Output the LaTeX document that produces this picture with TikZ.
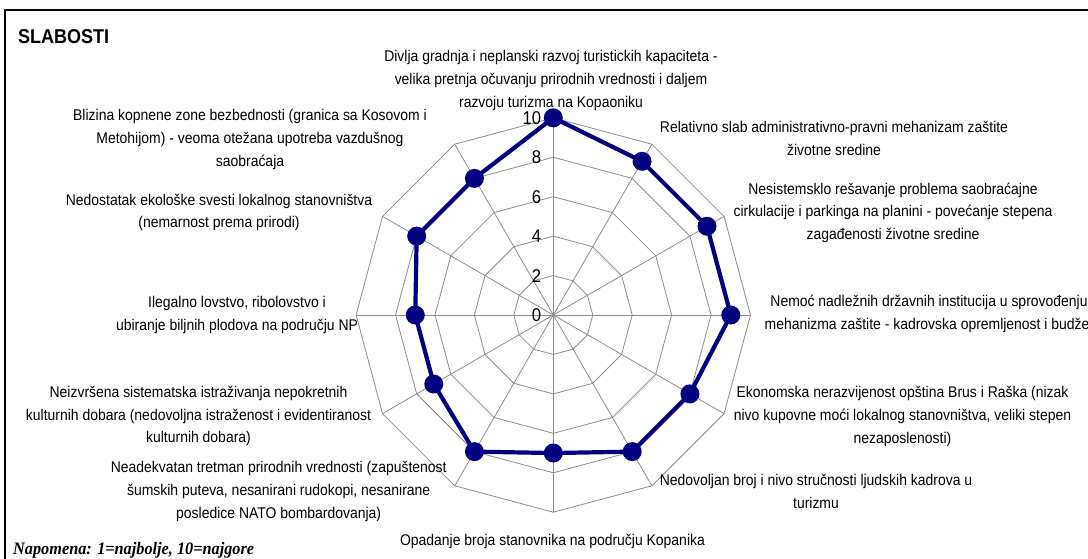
\documentclass[tikz,border=0pt]{standalone}
\usepackage{fontspec}
\setmainfont[FakeStretch=0.9]{Liberation Sans}
\newfontfamily\notefont[FakeStretch=0.93]{Liberation Serif}
\definecolor{series}{HTML}{000080}
\definecolor{gridgray}{HTML}{8C8C8C}
\begin{document}
\begin{tikzpicture}[x=1pt,y=-1pt,
  lbl/.style={align=center, inner sep=0pt, font=\fontsize{15.5}{22.6}\selectfont},
  ticklbl/.style={anchor=east, inner sep=0pt, font=\fontsize{18.5}{18.5}\selectfont},
  gridline/.style={draw=gridgray, line width=0.8pt},
  serie/.style={draw=series, line width=4.2pt, line join=round},
  dot/.style={circle, fill=series, minimum size=19pt, inner sep=0pt}]
\useasboundingbox (0,0) rectangle (1088,558);
\clip (0,0) rectangle (1088,558);
\fill[white] (0,0) rectangle (1088,558);

% chart frame
\draw[line width=2pt] (5,570) -- (5,9.5) -- (1100,9.5);

% centre and unit of the radar
\def\cx{553.3}
\def\cy{315}
\def\u{19.72}
\coordinate (O) at (\cx,\cy);

% ring vertices
\foreach \v in {2,4,6,8,10}{
  \foreach \k in {0,...,11}{
    \coordinate (r\v-\k) at ({\cx+\v*\u*sin(30*\k)},{\cy-\v*\u*cos(30*\k)});
  }
}
% rings
\foreach \v in {2,4,6,8,10}{
  \draw[gridline] (r\v-0) \foreach \k in {1,...,11}{ -- (r\v-\k) } -- cycle;
}
% spokes
\foreach \k in {0,...,11}{
  \draw[gridline] (O) -- (r10-\k);
}
% scale labels
\foreach \v in {0,2,4,6,8,10}{
  \node[ticklbl] (t\v) at ({\cx-12},{\cy-\v*\u}) {\v};
}

% data series
\foreach \val [count=\k from 0] in {10,9,9,9,8,8,7,8,7,7,8,8}{
  \coordinate (p\k) at ({\cx+\val*\u*sin(30*\k)},{\cy-\val*\u*cos(30*\k)});
}
\draw[serie] (p0) -- (p1) -- (p2) -- (p3) -- (p4) -- (p5) -- (p6)
  -- (p7) -- (p8) -- (p9) -- (p10) -- (p11) -- cycle;
\foreach \k in {0,...,11}{
  \node[dot] (d\k) at (p\k) {};
}

% axis captions
\node[lbl] (a0) at (551,80.5) {Divlja gradnja i neplanski razvoj turistickih kapaciteta -\\velika pretnja očuvanju prirodnih vrednosti i daljem\\razvoju turizma na Kopaoniku};
\node[lbl] (a1) at (834,138.3) {Relativno slab administrativno-pravni mehanizam zaštite\\životne sredine};
\node[lbl] (a2) at (893,212.8) {Nesistemsklo rešavanje problema saobraćajne\\cirkulacije i parkinga na planini - povećanje stepena\\zagađenosti životne sredine};
\node[lbl] (a3) at (929,313.8) {Nemoć nadležnih državnih institucija u sprovođenju\\mehanizma zaštite - kadrovska opremljenost i budžet};
\node[lbl] (a4) at (902.5,416.5) {Ekonomska nerazvijenost opština Brus i Raška (nizak\\nivo kupovne moći lokalnog stanovništva, veliki stepen\\nezaposlenosti)};
\node[lbl] (a5) at (816,491.3) {Nedovoljan broj i nivo stručnosti ljudskih kadrova u\\turizmu};
\node[lbl] (a6) at (552.5,541.7) {Opadanje broja stanovnika na području Kopanika};
\node[lbl] (a7) at (278.7,491.5) {Neadekvatan tretman prirodnih vrednosti (zapuštenost\\šumskih puteva, nesanirani rudokopi, nesanirane\\posledice NATO bombardovanja)};
\node[lbl] (a8) at (198.5,416) {Neizvršena sistematska istraživanja nepokretnih\\kulturnih dobara (nedovoljna istraženost i evidentiranost\\kulturnih dobara)};
\node[lbl] (a9) at (237,315) {Ilegalno lovstvo, ribolovstvo i\\ubiranje biljnih plodova na području NP};
\node[lbl] (a10) at (219,212.3) {Nedostatak ekološke svesti lokalnog stanovništva\\(nemarnost prema prirodi)};
\node[lbl] (a11) at (250,139.5) {Blizina kopnene zone bezbednosti (granica sa Kosovom i\\Metohijom) - veoma otežana upotreba vazdušnog\\saobraćaja};

% title and note
\node[anchor=base west, inner sep=0pt, font=\fontsize{20}{20}\selectfont\bfseries] (title) at (18,43) {SLABOSTI};
\node[anchor=base west, inner sep=0pt, font=\notefont\fontsize{17.5}{17.5}\selectfont\bfseries\itshape] (note) at (13,554) {Napomena: 1=najbolje, 10=najgore};
\end{tikzpicture}
\end{document}
